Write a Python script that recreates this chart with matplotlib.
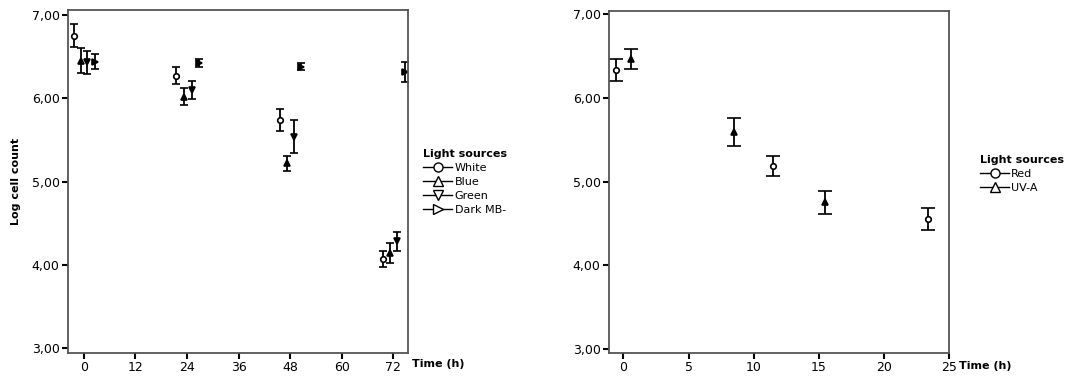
import matplotlib
matplotlib.use('Agg')
import matplotlib.pyplot as plt
from matplotlib.lines import Line2D
from matplotlib.ticker import FuncFormatter

plt.rcParams['font.family'] = ['DejaVu Sans']

# left panel: time (h) and log cell count, four light sources
white_t = [-2.3, 21.4, 45.7, 69.7]
white_y = [6.75, 6.27, 5.74, 4.07]
white_err = [0.14, 0.10, 0.13, 0.10]

blue_t = [-0.7, 23.3, 47.3, 71.3]
blue_y = [6.45, 6.02, 5.22, 4.14]
blue_err = [0.15, 0.10, 0.09, 0.12]

green_t = [0.8, 25.1, 49.0, 72.9]
green_y = [6.43, 6.10, 5.54, 4.28]
green_err = [0.14, 0.11, 0.20, 0.11]

dark_t = [2.6, 26.8, 50.6, 74.6]
dark_y = [6.44, 6.42, 6.38, 6.32]
dark_err = [0.09, 0.05, 0.04, 0.12]

# right panel
red_t = [-0.6, 11.5, 23.4]
red_y = [6.33, 5.19, 4.55]
red_err = [0.13, 0.12, 0.13]

uva_t = [0.6, 8.5, 15.5]
uva_y = [6.47, 5.59, 4.75]
uva_err = [0.12, 0.17, 0.14]

left_ticks = [0, 12, 24, 36, 48, 60, 72]
right_ticks = [0, 5, 10, 15, 20, 25]
y_ticks = [3, 4, 5, 6, 7]

fig = plt.figure(figsize=(10.77, 3.83), dpi=100)
ax1 = fig.add_axes([0.0631, 0.0783, 0.3157, 0.8956])
ax2 = fig.add_axes([0.5655, 0.0783, 0.3157, 0.8930])

comma = FuncFormatter(lambda v, p: ('%.2f' % v).replace('.', ','))


def style(ax):
    for s in ax.spines.values():
        s.set_color('#555555')
        s.set_linewidth(1.3)
    ax.tick_params(direction='out', length=4, width=1.5, labelsize=9,
                   top=False, right=False, pad=2)
    ax.set_yticks(y_ticks)
    ax.yaxis.set_major_formatter(comma)


def bars(ax, t, y, e, marker, filled, ms=4, cap=2.7):
    ax.errorbar(t, y, yerr=e, fmt=marker, color='black', ms=ms,
                mfc='black' if filled else 'white', mec='black', mew=1.2,
                ecolor='black', elinewidth=1.3, capsize=cap, capthick=1.3)


bars(ax1, white_t, white_y, white_err, 'o', False)
bars(ax1, blue_t, blue_y, blue_err, '^', True)
bars(ax1, green_t, green_y, green_err, 'v', True)
bars(ax1, dark_t, dark_y, dark_err, '>', True)
style(ax1)
ax1.set_xlim(-3.7, 75.4)
ax1.set_ylim(2.94, 7.06)
ax1.set_xticks(left_ticks)
ax1.set_ylabel('Log cell count', fontsize=8, fontweight='bold', labelpad=8)

bars(ax2, red_t, red_y, red_err, 'o', False, cap=4.7)
bars(ax2, uva_t, uva_y, uva_err, '^', True, cap=4.7)
style(ax2)
ax2.set_xlim(-1.1, 25.0)
ax2.set_ylim(2.95, 7.04)
ax2.set_xticks(right_ticks)

fig.text(0.383, 0.042, 'Time (h)', fontsize=8, fontweight='bold')
fig.text(0.890, 0.036, 'Time (h)', fontsize=8, fontweight='bold')


def handle(marker, label):
    return Line2D([0], [0], color='black', lw=1.0, marker=marker, ms=6.5,
                  mfc='white', mec='black', mew=1.0, label=label)


h1 = [handle('o', 'White'), handle('^', 'Blue'), handle('v', 'Green'),
      handle('>', 'Dark MB-')]
leg1 = fig.legend(handles=h1, loc='upper left', bbox_to_anchor=(0.388, 0.625),
                  frameon=False, fontsize=8, title='Light sources',
                  title_fontproperties={'weight': 'bold', 'size': 8},
                  handlelength=2.6, handletextpad=0.2, labelspacing=0.35,
                  borderpad=0, alignment='left')

h2 = [handle('o', 'Red'), handle('^', 'UV-A')]
leg2 = fig.legend(handles=h2, loc='upper left', bbox_to_anchor=(0.905, 0.61),
                  frameon=False, fontsize=8, title='Light sources',
                  title_fontproperties={'weight': 'bold', 'size': 8},
                  handlelength=2.6, handletextpad=0.2, labelspacing=0.35,
                  borderpad=0, alignment='left')

plt.savefig('out.png', dpi=100)
